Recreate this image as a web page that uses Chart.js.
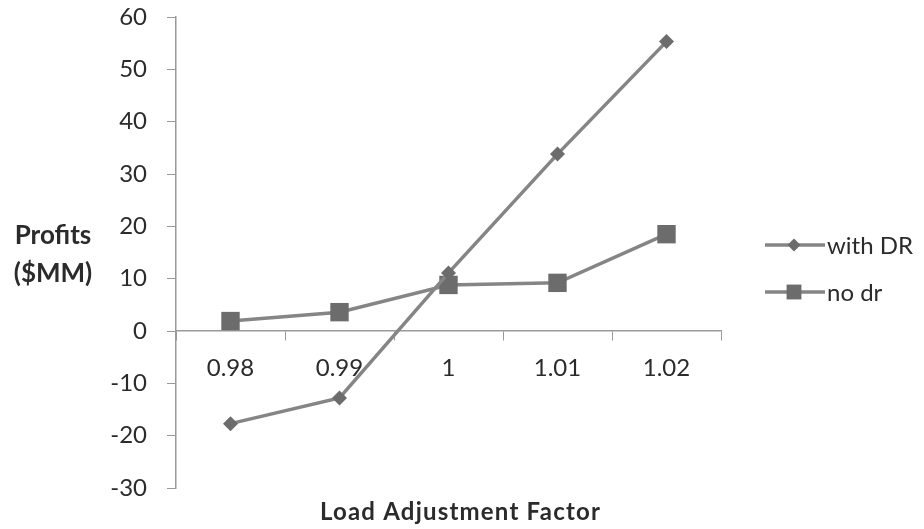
<!DOCTYPE html>
<html>
<head>
<meta charset="utf-8">
<script src="https://cdn.jsdelivr.net/npm/chart.js@4/dist/chart.umd.min.js"></script>
<style>
  html, body { margin: 0; padding: 0; background: #fff; }
  #wrap { width: 924px; height: 529px; position: relative; }
</style>
</head>
<body>
<div id="wrap"><canvas id="profitChart"></canvas></div>
<script>
  const loadFactors = ['0.98', '0.99', '1', '1.01', '1.02'];
  const withDR = [-17.7, -12.8, 11.1, 33.8, 55.3];
  const noDR = [1.9, 3.6, 8.8, 9.2, 18.5];
  const yTicks = [-30, -20, -10, 0, 10, 20, 30, 40, 50, 60];

  const FONT = 'Lato, "Open Sans", sans-serif';
  const LINE = '#858585';
  const MARK = '#6c6c6c';
  const TEXT = '#2b2b2b';
  const AXIS = '#9a9a9a';

  // titles and legend are drawn by hand: horizontal y title, legend with line + marker
  const extras = {
    id: 'extras',
    afterDraw(chart) {
      const ctx = chart.ctx;
      const area = chart.chartArea;
      ctx.save();
      ctx.fillStyle = TEXT;
      ctx.textAlign = 'center';
      ctx.textBaseline = 'middle';
      ctx.font = 'bold 26px ' + FONT;
      ctx.fillText('Profits', 53, 236);
      ctx.fillText('($MM)', 53, 274);
      ctx.font = 'bold 24px ' + FONT;
      ctx.letterSpacing = '1.2px';
      ctx.fillText('Load Adjustment Factor', (area.left + area.right) / 2 + 12, 512);
      ctx.letterSpacing = '0px';

      const items = [
        { label: 'with DR', style: 'rectRot', r: 6.5, y: 245 },
        { label: 'no dr', style: 'rect', r: 10.5, y: 292 }
      ];
      ctx.font = '24px ' + FONT;
      ctx.textAlign = 'left';
      items.forEach(it => {
        ctx.strokeStyle = LINE;
        ctx.lineWidth = 3.5;
        ctx.beginPath();
        ctx.moveTo(765, it.y);
        ctx.lineTo(825, it.y);
        ctx.stroke();
        ctx.fillStyle = MARK;
        Chart.helpers.drawPoint(ctx, { pointStyle: it.style, radius: it.r, borderWidth: 0 }, 794, it.y);
        ctx.fillStyle = TEXT;
        ctx.fillText(it.label, 827, it.y + 1);
      });
      ctx.restore();
    }
  };

  new Chart(document.getElementById('profitChart'), {
    type: 'line',
    data: {
      labels: loadFactors,
      datasets: [
        {
          label: 'with DR',
          data: withDR,
          borderColor: LINE,
          borderWidth: 3.5,
          pointStyle: 'rectRot',
          pointRadius: 7.5,
          pointBackgroundColor: MARK,
          pointBorderWidth: 0,
          tension: 0
        },
        {
          label: 'no dr',
          data: noDR,
          borderColor: LINE,
          borderWidth: 3.5,
          pointStyle: 'rect',
          pointRadius: 13,
          pointBackgroundColor: MARK,
          pointBorderWidth: 0,
          tension: 0
        }
      ]
    },
    options: {
      responsive: true,
      maintainAspectRatio: false,
      animation: false,
      layout: { padding: { top: 17, right: 203, bottom: 41, left: 0 } },
      plugins: { legend: { display: false }, tooltip: { enabled: false } },
      scales: {
        x: {
          position: { y: 0 },
          offset: true,
          afterFit(s) { s.paddingTop = 0; s.paddingBottom = 0; },
          grid: { display: true, offset: true, drawOnChartArea: false, drawTicks: true, tickLength: 9, color: AXIS },
          border: { color: AXIS, width: 1.5 },
          ticks: { color: TEXT, font: { family: FONT, size: 24 }, padding: 14, maxRotation: 0 }
        },
        y: {
          min: -30,
          max: 60,
          afterFit(s) { s.width = 176; s.paddingTop = 0; s.paddingBottom = 0; },
          afterBuildTicks(s) { s.ticks = yTicks.map(v => ({ value: v })); },
          grid: { drawOnChartArea: false, drawTicks: true, tickLength: 9, color: AXIS },
          border: { color: AXIS, width: 1.5 },
          ticks: { color: TEXT, font: { family: FONT, size: 24 }, padding: 20 }
        }
      }
    },
    plugins: [extras]
  });
</script>
</body>
</html>
